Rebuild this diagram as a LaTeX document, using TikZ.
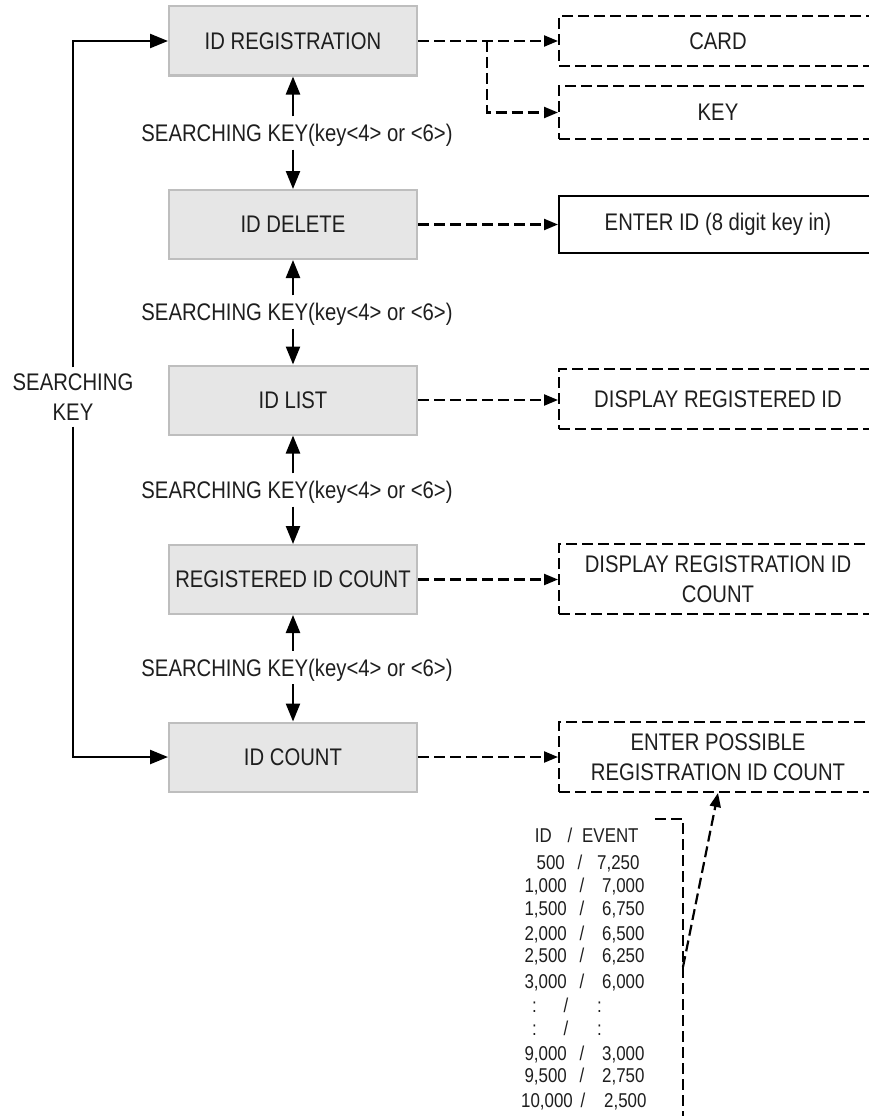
\documentclass[tikz,border=0pt]{standalone}
\usepackage{fontspec}
\setmainfont[FakeStretch=0.845]{Liberation Sans}
\usetikzlibrary{arrows.meta,calc}
\definecolor{boxfill}{RGB}{230,230,230}
\definecolor{boxline}{RGB}{190,190,190}
\definecolor{inkcol}{RGB}{30,30,30}
\begin{document}
\begin{tikzpicture}[x=1pt,y=-1pt,
  txt/.style={font=\fontsize{24}{30}\selectfont, text=inkcol},
  graybox/.style={txt, draw=boxline, fill=boxfill, line width=2pt, minimum width=248pt, minimum height=69pt, inner sep=0pt},
  dbox/.style={txt, draw, dash pattern=on 11pt off 5pt, line width=2pt, minimum width=318pt, inner sep=0pt, align=center},
  sbox/.style={txt, draw, line width=2pt, minimum width=318pt, inner sep=0pt, align=center},
  lbl/.style={txt, inner xsep=0pt, inner ysep=8pt, text height=17pt, text depth=0pt},
  sidelbl/.style={txt, inner xsep=0pt, inner ysep=6pt, align=center},
  solidarrow/.style={line width=2.4pt, -{Triangle[length=18pt,width=14pt]}},
  dashline/.style={line width=2.2pt, dash pattern=on 11pt off 5pt},
  dasharrow/.style={dashline, -{Triangle[length=14pt,width=11pt]}},
  tab/.style={font=\fontsize{20}{24}\selectfont, text=inkcol, inner sep=0pt, text height=14pt, text depth=0pt}
]
\useasboundingbox (0,0) rectangle (868,1116);

% main gray boxes
\node[graybox] (b1) at (293,41) {ID REGISTRATION};
\node[graybox] (b2) at (293,224.5) {ID DELETE};
\node[graybox] (b3) at (293,400) {ID LIST};
\node[graybox] (b4) at (293,579.5) {REGISTERED ID COUNT};
\node[graybox] (b5) at (293,757) {ID COUNT};

% searching labels between boxes
\node[lbl] (l1) at (297,133) {SEARCHING KEY(key<4> or <6>)};
\node[lbl] (l2) at (297,312) {SEARCHING KEY(key<4> or <6>)};
\node[lbl] (l3) at (297,490) {SEARCHING KEY(key<4> or <6>)};
\node[lbl] (l4) at (297,667.5) {SEARCHING KEY(key<4> or <6>)};

\draw[solidarrow] (b1.south |- l1.north) -- (b1.south);
\draw[solidarrow] (b1.south |- l1.south) -- (b2.north);
\draw[solidarrow] (b2.south |- l2.north) -- (b2.south);
\draw[solidarrow] (b2.south |- l2.south) -- (b3.north);
\draw[solidarrow] (b3.south |- l3.north) -- (b3.south);
\draw[solidarrow] (b3.south |- l3.south) -- (b4.north);
\draw[solidarrow] (b4.south |- l4.north) -- (b4.south);
\draw[solidarrow] (b4.south |- l4.south) -- (b5.north);

% left loop
\node[sidelbl] (sk) at (73,397) {SEARCHING\\KEY};
\draw[solidarrow] (sk.north) |- (b1.west);
\draw[solidarrow] (sk.south) |- (b5.west);

% right boxes
\node[dbox, minimum height=50pt] (card) at (718,41) {CARD};
\node[dbox, minimum height=53pt] (key) at (718,112.5) {KEY};
\node[sbox, minimum height=57pt] (entr) at (718,224.5) {ENTER ID (8 digit key in)};
\node[dbox, minimum height=60pt] (disp) at (718,399) {DISPLAY REGISTERED ID};
\node[dbox, minimum height=70pt] (dcnt) at (718,579) {DISPLAY REGISTRATION ID\\COUNT};
\node[dbox, minimum height=70pt] (epos) at (718,757) {ENTER POSSIBLE\\REGISTRATION ID COUNT};

% dashed connectors
\coordinate (br) at (487,41);
\draw[dasharrow] (b1.east) -- (card.west);
\draw[dasharrow] (br) |- (key.west);
\draw[dasharrow] (b2.east) -- (b2.east -| entr.west);
\draw[dasharrow] (b3.east) -- (b3.east -| disp.west);
\draw[dasharrow] (b4.east) -- (b4.east -| dcnt.west);
\draw[dasharrow] (b5.east) -- (b5.east -| epos.west);

% table
\foreach \yy/\a/\ax/\sx/\b/\bx [count=\i] in {
  835/ID/552/570/EVENT/582,
  862/500/565/580/{7,250}/597,
  885/{1,000}/567/582/{7,000}/602,
  908/{1,500}/567/582/{6,750}/602,
  933/{2,000}/567/582/{6,500}/602,
  955/{2,500}/567/582/{6,250}/602,
  981/{3,000}/567/582/{6,000}/602,
  1005/:/537/566/:/597,
  1028/:/537/566/:/597,
  1053/{9,000}/567/582/{3,000}/602,
  1075/{9,500}/567/582/{2,750}/602,
  1100/{10,000}/573/583/{2,500}/604}{
  \node[tab, anchor=east] (ta\i) at (\ax,\yy) {\a};
  \node[tab] (ts\i) at (\sx,\yy) {/};
  \node[tab, anchor=west] (tb\i) at (\bx,\yy) {\b};
}

% bracket and arrow
\coordinate (bk0) at (655,819);
\coordinate (bk1) at (683,819);
\coordinate (bk2) at (683,1125);
\coordinate (bkm) at (683,967);
\draw[dashline] (bk0) -- (bk1) -- (bk2);
\draw[dasharrow] (bkm) -- (epos.south);
\end{tikzpicture}
\end{document}
